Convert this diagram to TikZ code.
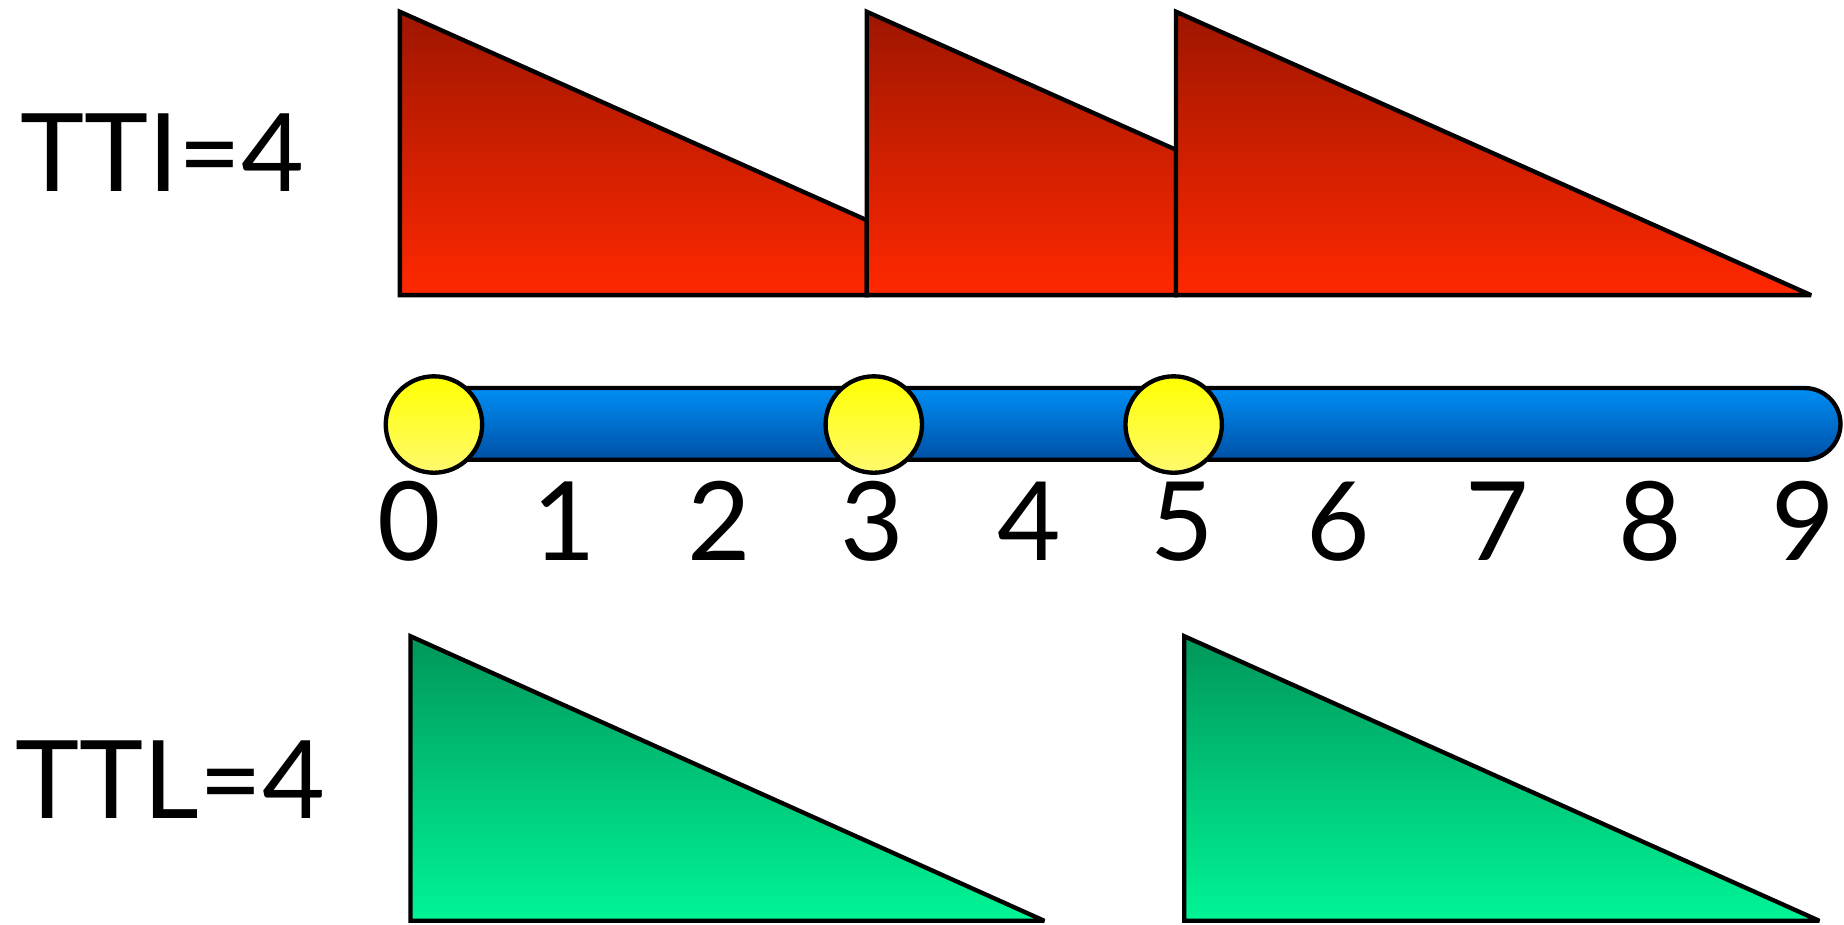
\documentclass[tikz,border=0pt]{standalone}
\usepackage{fontspec}
\setmainfont{Lato}
\definecolor{redtop}{RGB}{158,22,0}
\definecolor{redbot}{RGB}{255,40,0}
\definecolor{greentop}{RGB}{0,150,90}
\definecolor{greenbot}{RGB}{0,245,150}
\definecolor{bluetop}{RGB}{0,142,245}
\definecolor{bluebot}{RGB}{0,80,165}
\definecolor{yeltop}{RGB}{255,255,0}
\definecolor{yelbot}{RGB}{255,250,110}
\begin{document}
\begin{tikzpicture}[x=0.02cm,y=0.02cm,line width=2.1pt,line join=miter,miter limit=2,
  redtri/.style={draw=black,top color=redtop,bottom color=redbot},
  greentri/.style={draw=black,top color=greentop,bottom color=greenbot},
  bar/.style={draw=black,top color=bluetop,bottom color=bluebot},
  dot/.style={draw=black,top color=yeltop,bottom color=yelbot},
  lbl/.style={font=\fontsize{52.5}{52.5}\selectfont,inner sep=0pt,anchor=center},
  digit/.style={font=\fontsize{53}{53}\selectfont,inner sep=0pt,anchor=base}]
\useasboundingbox (0,0) rectangle (1568,786);
% red triangles (TTI); the first two are cut where the next one starts
\shadedraw[redtri, shading angle=0, top color=redtop, bottom color=redbot,
  shade, shading=axis] (340,535) -- (340,776) -- (737,598.8) -- (737,535) -- cycle;
\shadedraw[redtri] (737,535) -- (737,776) -- (1000,658.6) -- (1000,535) -- cycle;
\shadedraw[redtri] (1000,535) -- (1000,776) -- (1540,535) -- cycle;
% timeline bar
\shadedraw[bar] (380,456) -- (1534.5,456) arc[start angle=90,end angle=-90,radius=30.5] -- (380,395) -- cycle;
% markers
\shadedraw[dot] (369,425) circle[radius=41];
\shadedraw[dot] (743,425) circle[radius=41];
\shadedraw[dot] (998,425) circle[radius=41];
% digits
\node[digit] (d0) at (348,309) {0};
\node[digit] (d1) at (480,309) {1};
\node[digit] (d2) at (612,309) {2};
\node[digit] (d3) at (742,309) {3};
\node[digit] (d4) at (875,309) {4};
\node[digit] (d5) at (1005,309) {5};
\node[digit] (d6) at (1138,309) {6};
\node[digit] (d7) at (1273,309) {7};
\node[digit] (d8) at (1403,309) {8};
\node[digit] (d9) at (1533,309) {9};
% green triangles (TTL)
\shadedraw[greentri] (349,3) -- (349,245) -- (888,3) -- cycle;
\shadedraw[greentri] (1007,3) -- (1007,245) -- (1547,3) -- cycle;
% labels
\node[lbl] (tti) at (138,656) {TTI=4};
\node[lbl] (ttl) at (145,123) {TTL=4};
\end{tikzpicture}
\end{document}
